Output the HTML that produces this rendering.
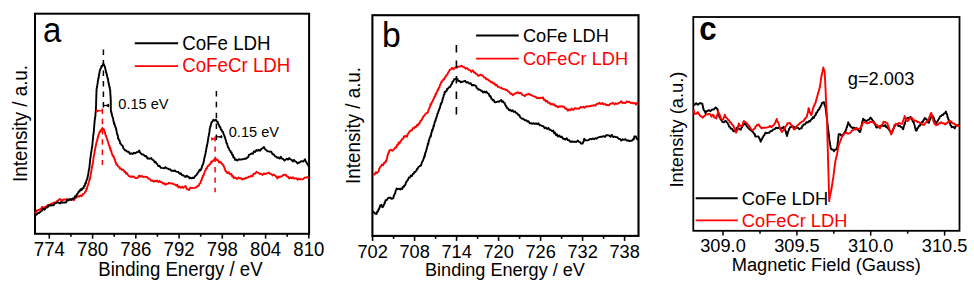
<!DOCTYPE html>
<html><head><meta charset="utf-8"><style>
html,body{margin:0;padding:0;background:#fff;}
body{width:974px;height:285px;overflow:hidden;}
svg{display:block;font-family:"Liberation Sans", sans-serif;}
</style></head><body>
<svg width="974" height="285" viewBox="0 0 974 285">
<rect x="35.0" y="13.7" width="274.1" height="220.10000000000002" fill="none" stroke="#000" stroke-width="2.0"/>
<line x1="49.3" y1="233.8" x2="49.3" y2="238.60000000000002" stroke="#000" stroke-width="1.6"/>
<text transform="translate(49.30,255.80) scale(1,1.04)" font-size="18.6" text-anchor="middle" fill="#000" >774</text>
<line x1="70.9" y1="233.8" x2="70.9" y2="236.70000000000002" stroke="#000" stroke-width="1.6"/>
<line x1="92.6" y1="233.8" x2="92.6" y2="238.60000000000002" stroke="#000" stroke-width="1.6"/>
<text transform="translate(92.60,255.80) scale(1,1.04)" font-size="18.6" text-anchor="middle" fill="#000" >780</text>
<line x1="114.2" y1="233.8" x2="114.2" y2="236.70000000000002" stroke="#000" stroke-width="1.6"/>
<line x1="135.8" y1="233.8" x2="135.8" y2="238.60000000000002" stroke="#000" stroke-width="1.6"/>
<text transform="translate(135.80,255.80) scale(1,1.04)" font-size="18.6" text-anchor="middle" fill="#000" >786</text>
<line x1="157.4" y1="233.8" x2="157.4" y2="236.70000000000002" stroke="#000" stroke-width="1.6"/>
<line x1="179.1" y1="233.8" x2="179.1" y2="238.60000000000002" stroke="#000" stroke-width="1.6"/>
<text transform="translate(179.10,255.80) scale(1,1.04)" font-size="18.6" text-anchor="middle" fill="#000" >792</text>
<line x1="200.7" y1="233.8" x2="200.7" y2="236.70000000000002" stroke="#000" stroke-width="1.6"/>
<line x1="222.3" y1="233.8" x2="222.3" y2="238.60000000000002" stroke="#000" stroke-width="1.6"/>
<text transform="translate(222.30,255.80) scale(1,1.04)" font-size="18.6" text-anchor="middle" fill="#000" >798</text>
<line x1="243.9" y1="233.8" x2="243.9" y2="236.70000000000002" stroke="#000" stroke-width="1.6"/>
<line x1="265.6" y1="233.8" x2="265.6" y2="238.60000000000002" stroke="#000" stroke-width="1.6"/>
<text transform="translate(265.60,255.80) scale(1,1.04)" font-size="18.6" text-anchor="middle" fill="#000" >804</text>
<line x1="287.2" y1="233.8" x2="287.2" y2="236.70000000000002" stroke="#000" stroke-width="1.6"/>
<line x1="308.8" y1="233.8" x2="308.8" y2="238.60000000000002" stroke="#000" stroke-width="1.6"/>
<text transform="translate(308.80,255.80) scale(1,1.04)" font-size="18.6" text-anchor="middle" fill="#000" >810</text>
<text transform="translate(98.27,276.00) scale(1,1.04)" font-size="18.6" text-anchor="start" fill="#000" >Binding Energy / eV</text>
<text transform="translate(27.2,180.2) rotate(-90) scale(1,1.04)" x="-1.7" y="0" font-size="18.8">Intensity / a.u.</text>
<text transform="translate(42.90,42.00) scale(1,1.04)" font-size="33" text-anchor="start" fill="#000" >a</text>
<polyline points="35.5,212.7 36.0,212.6 37.0,210.3 38.0,210.4 40.0,209.3 41.0,209.4 42.0,206.9 43.5,207.8 45.0,207.0 46.5,206.3 48.0,204.9 50.0,204.6 51.5,203.4 53.0,203.3 54.5,202.4 56.0,202.3 57.0,201.1 58.0,200.4 60.0,198.9 62.0,200.8 64.0,199.4 66.0,199.5 67.3,199.1 68.7,200.2 70.0,199.1 71.3,200.0 72.6,199.3 73.9,200.2 75.2,198.0 76.4,197.7 77.7,196.0 79.0,196.8 80.3,195.4 81.6,196.3 83.0,194.1 84.5,193.2 85.1,191.9 85.8,191.6 86.4,188.8 86.8,189.3 87.2,187.0 87.5,186.6 87.9,185.0 88.3,184.5 88.7,182.3 89.1,181.2 89.5,179.2 89.9,179.4 90.3,176.7 90.5,176.2 90.7,174.8 90.9,173.5 91.2,171.4 91.4,170.7 91.6,168.9 91.8,168.5 92.1,166.2 92.3,165.7 92.5,164.0 92.7,164.3 93.0,162.4 93.2,161.1 93.4,158.4 93.6,157.8 93.8,156.2 94.1,155.0 94.3,153.5 94.5,152.6 94.7,150.6 95.0,150.4 95.2,148.5 95.4,147.5 95.7,146.3 95.9,145.2 96.2,143.7 96.5,142.4 96.8,141.3 97.1,141.0 97.3,139.0 97.6,139.2 97.9,136.8 98.2,136.6 98.5,134.6 99.0,134.1 99.5,131.9 100.1,132.0 100.6,130.1 101.5,130.2 102.4,127.9 103.2,129.2 103.9,129.1 104.7,132.6 105.1,132.4 105.6,135.6 106.0,135.6 106.4,137.5 106.9,138.4 107.3,139.9 107.7,140.9 108.2,142.8 108.6,143.9 109.0,145.4 109.5,145.6 109.9,148.5 110.4,148.2 110.8,150.8 111.2,150.5 111.7,153.2 112.1,153.9 112.6,155.8 113.1,155.6 113.6,157.2 114.1,157.3 114.6,159.5 115.0,159.6 115.5,162.2 116.0,162.8 116.4,164.9 117.3,164.5 118.1,166.5 119.0,166.9 119.9,168.7 120.7,168.3 121.6,169.8 123.4,169.8 124.3,171.8 125.1,171.4 126.0,173.7 126.9,173.0 127.8,174.8 128.7,176.0 130.0,176.7 131.3,176.5 132.6,176.8 133.9,176.5 135.2,178.0 136.6,178.1 137.9,177.6 139.2,175.5 140.5,176.7 141.8,175.9 143.2,177.1 144.5,176.6 145.8,177.0 147.1,177.0 148.4,178.6 149.7,178.8 151.1,180.7 152.4,180.5 153.6,181.7 154.7,181.0 155.9,181.4 157.1,180.6 158.3,182.1 159.5,180.8 160.7,182.0 161.8,182.3 163.0,183.5 164.2,183.1 165.4,184.8 166.6,183.9 167.8,183.9 169.0,182.8 171.3,183.7 172.5,183.4 173.7,184.2 174.9,184.4 176.1,185.7 177.2,184.7 178.4,187.5 179.6,186.5 180.8,187.8 182.0,186.8 183.2,187.9 185.5,185.9 186.7,188.8 187.9,189.4 189.1,190.1 190.3,187.6 192.7,188.1 195.0,187.9 196.3,187.2 197.7,185.9 198.6,185.8 199.6,183.5 200.5,183.0 201.0,180.5 201.6,180.2 202.1,177.6 202.7,177.0 203.2,175.3 203.7,175.2 204.1,173.4 204.6,172.3 205.1,170.7 205.5,170.5 206.0,168.8 206.9,168.3 207.8,165.9 208.7,165.8 209.6,164.2 210.5,163.9 211.4,161.4 212.3,161.8 213.3,160.4 214.2,159.9 215.4,158.2 216.6,160.1 217.8,160.0 219.2,162.5 220.5,161.8 221.4,163.4 222.4,164.1 223.3,165.5 223.8,166.0 224.4,168.1 224.9,168.9 225.5,171.0 226.0,171.1 227.4,173.2 228.8,172.2 230.2,174.4 231.5,173.9 232.2,176.4 233.0,175.9 233.7,178.1 235.3,177.4 237.0,179.0 238.5,177.4 240.0,178.6 241.2,178.1 242.5,179.6 243.7,178.6 244.9,178.7 246.2,177.6 247.4,177.9 248.7,176.6 249.9,176.9 251.2,175.8 252.4,176.3 253.6,173.6 254.8,173.8 256.5,171.8 257.7,172.7 258.9,173.1 260.1,174.0 261.4,174.0 262.6,175.0 263.9,173.4 265.1,174.1 266.4,173.4 267.6,173.3 268.8,172.5 270.1,173.9 271.3,174.0 272.6,175.5 273.8,174.4 275.0,175.6 276.2,176.5 277.4,178.4 278.5,176.5 279.7,177.2 280.9,176.4 282.1,176.2 283.3,175.0 284.5,174.8 285.6,174.6 286.8,176.6 288.0,176.5 289.2,178.4 290.4,177.4 291.6,178.3 292.8,177.2 294.0,178.7 296.3,178.1 297.5,179.8 298.7,178.7 299.9,179.3 301.1,179.2 303.4,179.0 304.6,177.6 305.8,177.6 307.0,177.2 308.2,177.7" fill="none" stroke="#f00" stroke-width="1.9" stroke-linejoin="round" stroke-linecap="round" />
<polyline points="35.5,215.3 37.0,214.2 38.0,213.0 39.0,213.0 41.0,211.2 42.0,210.6 43.0,208.7 44.5,209.7 46.0,207.6 47.5,207.4 49.0,205.4 50.5,205.5 52.0,205.1 53.5,205.4 55.0,203.3 56.5,202.9 58.0,202.3 60.0,203.4 61.0,202.0 62.0,202.9 64.0,202.4 66.0,202.5 67.0,199.8 68.0,200.5 70.0,199.1 71.3,199.8 72.6,198.4 73.9,198.8 74.9,196.3 75.8,196.8 76.8,194.4 77.7,193.8 78.7,191.5 79.6,191.5 80.6,189.2 81.6,190.1 82.5,188.1 83.5,188.2 84.1,185.6 84.8,185.9 85.4,182.9 85.9,183.3 86.4,180.4 86.9,179.9 87.4,177.7 87.6,177.9 87.8,175.9 88.1,174.9 88.3,173.3 88.5,172.7 88.8,170.2 89.0,169.4 89.3,168.0 89.5,167.1 89.6,164.8 89.8,163.8 90.0,162.0 90.1,160.7 90.3,158.1 90.5,157.9 90.6,156.5 90.8,155.8 90.9,154.1 91.0,154.1 91.2,151.8 91.4,151.8 91.7,148.8 91.9,148.1 92.2,146.0 92.4,145.1 92.5,142.8 92.6,142.2 92.8,139.8 92.9,139.9 93.0,138.3 93.1,137.0 93.2,135.2 93.4,134.9 93.5,133.8 93.6,134.2 93.7,131.5 93.9,130.8 94.0,128.9 94.1,128.1 94.2,125.9 94.4,124.6 94.5,122.4 94.6,122.1 94.7,120.0 94.9,119.3 95.0,117.7 95.1,117.6 95.3,116.4 95.4,116.3 95.5,113.7 95.6,112.6 95.8,110.6 95.9,109.6 95.9,107.5 96.0,108.2 96.0,105.6 96.1,105.4 96.1,103.7 96.1,102.5 96.2,100.7 96.2,100.2 96.2,98.3 96.3,97.9 96.3,95.8 96.3,95.8 96.4,94.2 96.4,93.3 96.5,91.1 96.5,90.6 96.7,88.0 96.9,87.9 97.1,86.5 97.3,85.3 97.5,83.5 97.7,83.2 97.9,80.9 98.1,80.3 98.3,78.1 98.6,78.5 98.8,76.2 99.0,75.3 99.3,73.0 99.5,73.0 99.8,70.7 100.0,70.1 100.5,68.9 101.0,68.1 101.5,65.9 102.0,66.5 103.4,63.6 104.5,65.8 104.9,66.7 105.3,69.1 105.7,69.8 106.0,72.3 106.3,72.5 106.6,74.1 106.8,74.2 107.1,76.6 107.4,77.1 107.7,78.9 108.0,78.7 108.3,81.8 108.5,82.3 108.8,84.1 109.1,85.0 109.4,87.1 109.7,86.8 109.9,89.5 110.2,90.0 110.3,92.1 110.3,92.7 110.4,95.0 110.5,95.1 110.6,97.5 110.7,97.8 110.7,100.1 110.8,100.3 110.8,102.9 110.8,103.3 110.8,104.5 110.8,104.7 110.8,107.1 110.8,107.8 110.8,109.1 110.8,109.5 111.1,112.1 111.4,111.8 111.7,114.2 112.0,114.7 112.3,116.8 112.6,116.7 112.9,117.9 113.2,119.1 113.4,121.1 113.7,121.1 114.0,123.8 114.3,123.1 114.8,125.3 115.2,125.8 115.6,127.9 116.1,128.3 116.4,130.6 116.7,131.5 116.9,133.5 117.2,133.8 117.5,135.4 117.8,135.2 118.1,138.6 118.6,138.6 119.1,140.4 119.6,140.6 120.2,143.5 120.8,143.8 121.7,145.4 122.5,145.5 123.4,148.3 124.3,149.2 125.1,150.6 126.0,150.4 127.3,151.7 128.7,151.7 130.0,153.9 131.3,153.3 132.6,154.0 133.9,152.8 135.2,153.4 136.6,152.3 137.9,152.1 139.2,150.5 140.1,152.8 140.9,153.3 142.2,154.6 143.6,154.5 144.9,156.3 146.2,156.0 147.5,158.5 148.8,158.3 150.0,158.8 151.2,158.1 152.4,159.8 153.6,160.2 154.7,162.2 155.5,161.7 156.3,163.2 157.1,163.9 158.3,166.1 159.5,165.8 160.7,167.7 161.8,167.9 164.2,168.2 165.4,167.2 166.6,168.4 167.8,168.4 169.0,169.4 170.2,169.3 171.3,170.7 172.5,170.7 173.7,171.0 174.9,170.5 176.1,171.6 178.4,172.0 179.6,173.8 180.8,173.3 182.0,175.3 183.2,175.3 185.5,177.0 186.7,175.7 187.9,176.7 188.7,176.7 189.5,178.3 190.3,177.6 191.5,178.4 192.7,177.6 193.8,178.2 195.0,176.3 196.3,175.1 197.7,173.1 198.6,172.0 199.6,169.8 200.5,170.4 201.1,169.1 201.6,168.3 202.1,165.8 202.7,165.1 203.0,164.1 203.3,163.7 203.6,161.9 203.9,161.2 204.2,158.8 204.5,157.8 204.8,156.0 205.0,155.9 205.2,154.4 205.5,154.2 205.8,151.2 206.0,151.5 206.2,149.0 206.5,148.5 206.7,146.5 206.9,146.7 207.2,144.4 207.4,143.8 207.6,142.3 207.8,142.0 208.0,139.8 208.2,139.1 208.4,136.8 208.7,136.5 208.9,134.6 209.1,134.2 209.3,132.5 209.5,132.3 209.7,128.9 210.0,127.9 210.3,126.2 210.6,126.5 210.9,124.7 211.2,123.9 211.5,122.3 212.4,121.7 213.3,119.8 214.6,120.6 215.9,119.7 216.8,121.5 217.6,121.7 218.3,124.1 218.9,124.8 219.6,127.0 220.3,127.0 221.0,129.8 221.6,129.7 222.2,131.6 222.9,131.6 223.5,133.9 224.1,134.9 224.7,137.0 225.1,137.9 225.6,139.7 226.0,140.3 226.4,143.1 226.8,142.9 227.3,145.0 227.8,146.2 228.2,147.7 228.8,148.0 229.5,150.2 230.2,150.6 230.8,152.4 231.5,152.3 232.1,154.7 232.8,154.7 233.4,157.6 234.3,157.5 235.2,160.0 236.1,159.5 237.4,160.6 238.7,159.3 240.6,159.6 242.5,159.2 243.7,159.1 244.9,158.5 246.2,158.7 247.4,157.5 248.2,157.1 249.1,154.6 250.3,154.3 251.5,153.4 252.8,153.8 254.0,151.3 255.2,151.9 256.5,150.0 257.7,150.8 258.9,149.7 260.1,150.7 261.4,148.7 262.6,148.3 263.9,146.9 265.1,149.3 266.4,150.3 267.6,151.4 268.8,151.4 270.1,151.8 271.3,151.7 272.6,154.3 273.8,154.3 275.0,156.3 276.2,156.6 277.4,157.9 278.5,157.5 279.7,158.7 280.9,156.8 282.1,158.9 283.3,159.0 284.5,160.6 286.8,158.8 288.0,159.6 289.2,158.1 290.4,159.4 291.6,159.8 292.8,161.4 294.0,159.9 295.1,161.3 296.3,161.8 297.5,163.4 298.7,162.4 299.9,162.5 301.1,161.1 303.4,161.5 305.0,159.3 305.8,161.5 306.6,162.6 308.2,165.6" fill="none" stroke="#000" stroke-width="1.9" stroke-linejoin="round" stroke-linecap="round" />
<line x1="103.4" y1="49.6" x2="103.4" y2="108" stroke="#000" stroke-width="1.5" stroke-dasharray="5.5 5"/>
<line x1="102.4" y1="108.4" x2="102.4" y2="165" stroke="#f00" stroke-width="1.5" stroke-dasharray="5.5 4.8"/>
<line x1="216.4" y1="90.9" x2="216.4" y2="140" stroke="#000" stroke-width="1.5" stroke-dasharray="5.5 5.4"/>
<line x1="215.1" y1="136.2" x2="215.1" y2="192.2" stroke="#f00" stroke-width="1.5" stroke-dasharray="5.3 5"/>
<line x1="103.4" y1="105.5" x2="109.4" y2="105.5" stroke="#000" stroke-width="1.3"/><polygon points="105.5,105.5 109,103.6 109,107.4" fill="#000"/>
<line x1="96" y1="110.8" x2="102.3" y2="110.8" stroke="#f00" stroke-width="1.3"/><polygon points="100,110.8 96.3,108.9 96.3,112.7" fill="#f00"/>
<line x1="216.8" y1="136.8" x2="222.5" y2="136.8" stroke="#000" stroke-width="1.3"/><polygon points="218.5,136.8 222,135 222,138.6" fill="#000"/>
<line x1="211.2" y1="138.9" x2="216.1" y2="138.9" stroke="#f00" stroke-width="1.3"/><polygon points="214.5,138.9 211.3,137.1 211.3,140.7" fill="#f00"/>
<text transform="translate(118.33,108.80) scale(1,1.04)" font-size="14.6" text-anchor="start" fill="#000" >0.15 eV</text>
<text transform="translate(228.73,137.10) scale(1,1.04)" font-size="14.6" text-anchor="start" fill="#000" >0.15 eV</text>
<line x1="134.8" y1="43.2" x2="178.1" y2="43.2" stroke="#000" stroke-width="2"/>
<line x1="134.8" y1="66.2" x2="178.1" y2="66.2" stroke="#f00" stroke-width="1.8"/>
<text transform="translate(182.14,49.70) scale(1,1.04)" font-size="18.75" text-anchor="start" fill="#000" >CoFe LDH</text>
<text transform="translate(182.14,72.30) scale(1,1.04)" font-size="18.75" text-anchor="start" fill="#f00" >CoFeCr LDH</text>
<rect x="372.4" y="15.2" width="266.1" height="220.70000000000002" fill="none" stroke="#000" stroke-width="2.1"/>
<line x1="372.6" y1="235.9" x2="372.6" y2="240.9" stroke="#000" stroke-width="1.6"/>
<text transform="translate(372.60,258.20) scale(1,1.04)" font-size="18.2" text-anchor="middle" fill="#000" >702</text>
<line x1="393.6" y1="235.9" x2="393.6" y2="238.9" stroke="#000" stroke-width="1.6"/>
<line x1="414.6" y1="235.9" x2="414.6" y2="240.9" stroke="#000" stroke-width="1.6"/>
<text transform="translate(414.60,258.20) scale(1,1.04)" font-size="18.2" text-anchor="middle" fill="#000" >708</text>
<line x1="435.6" y1="235.9" x2="435.6" y2="238.9" stroke="#000" stroke-width="1.6"/>
<line x1="456.6" y1="235.9" x2="456.6" y2="240.9" stroke="#000" stroke-width="1.6"/>
<text transform="translate(456.60,258.20) scale(1,1.04)" font-size="18.2" text-anchor="middle" fill="#000" >714</text>
<line x1="477.6" y1="235.9" x2="477.6" y2="238.9" stroke="#000" stroke-width="1.6"/>
<line x1="498.6" y1="235.9" x2="498.6" y2="240.9" stroke="#000" stroke-width="1.6"/>
<text transform="translate(498.60,258.20) scale(1,1.04)" font-size="18.2" text-anchor="middle" fill="#000" >720</text>
<line x1="519.6" y1="235.9" x2="519.6" y2="238.9" stroke="#000" stroke-width="1.6"/>
<line x1="540.6" y1="235.9" x2="540.6" y2="240.9" stroke="#000" stroke-width="1.6"/>
<text transform="translate(540.60,258.20) scale(1,1.04)" font-size="18.2" text-anchor="middle" fill="#000" >726</text>
<line x1="561.6" y1="235.9" x2="561.6" y2="238.9" stroke="#000" stroke-width="1.6"/>
<line x1="582.6" y1="235.9" x2="582.6" y2="240.9" stroke="#000" stroke-width="1.6"/>
<text transform="translate(582.60,258.20) scale(1,1.04)" font-size="18.2" text-anchor="middle" fill="#000" >732</text>
<line x1="603.6" y1="235.9" x2="603.6" y2="238.9" stroke="#000" stroke-width="1.6"/>
<line x1="624.6" y1="235.9" x2="624.6" y2="240.9" stroke="#000" stroke-width="1.6"/>
<text transform="translate(624.60,258.20) scale(1,1.04)" font-size="18.2" text-anchor="middle" fill="#000" >738</text>
<text transform="translate(425.02,275.70) scale(1,1.04)" font-size="18.1" text-anchor="start" fill="#000" >Binding Energy / eV</text>
<text transform="translate(360.3,182.2) rotate(-90) scale(1,1.04)" x="-1.7" y="0" font-size="18.8">Intensity / a.u.</text>
<text transform="translate(382.03,46.80) scale(1,1.04)" font-size="33.7" text-anchor="start" fill="#000" >b</text>
<polyline points="373.5,174.4 374.6,174.5 375.7,172.3 376.9,173.1 378.1,171.5 378.6,171.4 379.1,168.9 379.6,168.4 380.1,166.9 380.6,166.9 381.9,164.5 383.1,165.2 384.3,162.5 385.5,162.5 385.9,160.8 386.3,161.2 386.6,159.2 387.0,159.0 387.4,155.8 387.9,155.0 388.4,152.9 388.8,152.7 389.3,150.5 389.8,150.4 391.0,149.8 392.3,150.8 393.5,149.6 394.4,148.9 395.4,147.3 396.3,147.5 397.2,144.7 398.0,144.9 398.8,142.3 399.6,143.2 400.5,141.6 401.3,140.4 402.1,139.1 403.1,138.6 404.1,136.2 405.0,136.7 406.0,135.8 407.0,136.8 407.8,134.0 408.6,133.2 409.4,131.6 410.3,131.0 411.1,130.2 411.9,130.3 412.9,128.1 413.9,128.4 414.9,126.8 415.9,127.1 416.9,125.1 417.8,125.5 418.7,123.4 419.6,123.5 420.5,120.8 421.2,120.8 422.0,119.3 422.7,118.1 423.5,116.1 424.2,115.9 425.1,114.4 426.0,113.6 427.0,112.8 427.9,112.5 428.4,110.1 428.9,109.3 429.5,107.5 430.0,106.7 430.6,104.0 431.3,104.4 431.9,102.0 432.6,101.5 433.2,99.5 433.8,98.7 434.4,96.7 435.1,96.5 435.7,93.8 436.3,94.0 436.8,91.9 437.4,91.2 437.9,89.1 438.4,89.8 438.9,87.4 439.4,87.5 440.0,84.9 440.5,84.3 441.1,82.3 441.7,82.3 442.3,80.5 442.9,80.2 443.5,79.2 444.1,79.6 444.7,77.8 445.5,77.0 446.4,75.1 447.2,74.9 448.1,72.6 448.9,71.5 450.0,69.6 451.0,69.3 452.1,67.7 453.7,69.2 455.3,67.3 456.9,67.8 458.4,66.4 460.0,66.6 461.6,65.8 463.0,66.9 464.4,67.2 465.8,68.8 467.2,68.0 468.6,69.9 470.0,70.1 471.4,71.9 472.8,70.3 474.2,72.7 475.2,72.6 476.3,74.2 477.3,74.5 478.4,75.9 480.1,74.8 481.8,75.1 483.0,75.9 484.1,77.6 485.3,77.6 486.4,79.4 487.6,79.1 488.7,80.4 489.8,80.9 491.0,82.3 492.1,82.0 493.2,83.6 494.4,83.2 495.5,85.3 496.7,84.8 497.8,86.8 499.0,86.9 500.1,87.7 501.3,87.7 502.4,88.7 504.1,89.0 505.8,90.0 506.9,89.8 508.1,91.3 509.2,91.9 510.4,93.8 511.5,93.5 512.7,95.3 514.4,93.9 516.1,93.0 517.8,92.3 519.5,93.4 520.9,92.8 522.3,94.9 523.7,95.3 524.9,96.1 526.2,94.5 527.4,94.6 528.6,93.8 529.9,94.8 531.1,94.8 532.3,95.8 533.5,96.1 534.7,96.8 535.9,97.0 537.2,98.3 538.4,97.8 539.6,98.3 540.9,97.6 542.1,98.2 543.0,97.3 544.0,99.8 544.9,99.6 545.8,101.5 547.0,100.7 548.3,102.9 549.5,102.7 550.7,104.5 552.0,103.8 553.2,104.9 554.4,104.3 555.7,106.4 556.9,106.0 558.1,107.4 559.3,106.3 560.5,106.7 561.7,106.1 563.0,106.8 564.2,106.7 565.4,108.8 566.7,108.8 567.9,110.7 569.1,109.3 570.4,110.2 571.6,108.6 573.3,110.0 575.0,108.0 576.4,108.8 577.7,108.4 579.1,108.7 580.5,107.0 581.8,107.5 583.2,106.7 584.5,107.8 585.9,106.5 587.2,106.5 588.6,106.2 589.9,106.3 591.3,105.6 592.7,105.8 594.0,105.0 595.4,105.7 596.8,103.8 598.1,103.8 599.5,102.8 600.9,104.2 602.2,102.9 603.6,104.5 605.0,103.9 606.3,105.2 607.7,104.8 609.0,105.3 610.4,103.7 611.7,103.5 613.1,102.8 614.4,104.5 615.8,103.3 617.2,104.0 618.5,103.1 619.9,102.5 621.3,101.2 622.6,103.1 624.0,102.7 625.4,103.2 626.7,101.4 628.1,102.0 629.4,101.8 630.8,103.1 632.1,102.6 633.5,103.5 634.8,102.9 636.2,104.6 637.5,102.3" fill="none" stroke="#f00" stroke-width="1.9" stroke-linejoin="round" stroke-linecap="round" />
<polyline points="373.5,211.8 374.6,213.1 375.7,213.6 376.5,214.1 377.3,211.5 378.1,211.3 378.5,209.1 378.9,209.5 379.4,207.8 379.8,207.3 380.2,205.4 380.6,205.6 381.4,204.7 382.3,207.2 383.1,206.9 383.5,206.1 383.9,204.6 384.3,204.2 384.7,202.1 385.1,202.7 385.5,200.1 386.7,200.1 388.0,198.2 389.2,197.7 390.4,197.8 391.7,198.9 392.9,198.4 393.4,198.0 393.8,195.5 394.3,195.1 394.8,193.7 395.2,193.3 395.7,190.5 396.1,190.0 396.6,188.5 397.8,189.2 399.1,188.7 400.3,189.6 401.2,188.4 402.1,189.1 403.0,186.7 403.9,186.9 404.6,185.1 405.3,185.1 406.0,182.3 406.8,181.4 407.5,180.4 408.2,179.2 408.9,177.4 409.9,177.5 410.9,175.5 411.8,176.1 412.8,174.0 413.8,173.7 414.4,171.9 415.0,172.0 415.6,171.5 416.3,170.9 416.9,168.9 417.5,169.1 418.4,167.0 419.3,166.5 420.2,165.7 421.1,165.6 421.6,163.1 422.1,162.1 422.7,161.1 423.2,159.7 423.7,157.9 424.1,158.0 424.4,155.8 424.8,156.1 425.1,153.1 425.4,153.3 425.8,151.6 426.1,151.3 426.5,149.0 426.8,148.8 427.2,146.5 427.5,146.5 427.9,143.4 428.3,144.2 428.7,140.8 429.1,140.4 429.5,138.3 429.9,137.6 430.4,135.9 430.8,136.5 431.2,133.5 431.6,132.7 432.0,130.0 432.4,130.9 432.8,128.6 433.2,128.2 433.5,125.8 433.9,126.3 434.3,124.0 434.6,122.7 435.0,121.1 435.4,121.2 435.8,119.0 436.1,118.7 436.5,117.2 437.0,116.0 437.4,113.7 437.9,113.4 438.4,111.4 438.8,110.7 439.2,109.1 439.6,108.9 440.0,107.2 440.4,106.2 440.8,103.5 441.2,104.0 441.6,102.5 442.0,102.3 442.4,99.7 442.8,99.0 443.1,97.6 443.5,96.6 443.9,94.7 444.3,94.7 444.7,92.0 445.3,92.3 446.0,90.9 446.6,90.9 447.3,88.6 447.9,88.8 449.0,87.2 450.0,87.0 451.1,84.8 451.9,83.9 452.6,81.6 453.4,81.2 454.2,79.2 456.3,78.8 457.4,78.8 458.4,81.1 459.5,80.9 460.9,82.4 462.3,81.6 463.7,81.5 465.1,80.7 466.5,82.7 467.9,82.2 469.3,83.6 470.7,83.2 472.1,85.5 473.6,84.9 475.0,85.5 475.9,85.8 476.7,88.0 477.5,88.3 478.4,89.7 479.5,89.4 480.7,90.5 481.8,90.7 483.0,92.6 484.1,91.5 485.3,92.5 486.4,91.6 487.6,93.3 488.7,93.6 489.6,96.3 490.4,95.9 491.2,98.4 492.1,99.1 493.0,100.4 493.8,100.1 494.6,102.1 495.5,102.3 496.7,102.0 497.8,101.5 499.0,101.7 501.3,100.0 502.1,101.8 503.0,101.3 503.9,102.7 504.7,103.1 505.6,105.6 506.4,106.5 507.2,108.3 508.1,108.5 509.2,110.3 510.4,109.8 511.5,111.3 512.7,110.3 513.8,112.0 515.0,111.4 516.1,113.0 517.3,113.4 518.4,115.1 519.2,115.0 520.1,117.0 520.9,118.0 521.8,118.5 523.7,119.2 524.9,120.4 526.2,120.2 527.4,121.5 528.6,121.2 529.9,123.4 531.1,123.1 532.3,123.9 533.5,123.2 534.7,123.8 535.9,123.5 537.2,124.0 538.4,123.2 539.6,125.2 540.9,125.2 542.1,126.1 543.3,126.1 544.6,128.2 545.8,127.5 547.0,128.9 548.3,127.9 549.5,129.7 550.7,129.8 552.0,131.1 553.2,130.6 554.1,133.3 555.0,132.5 556.0,135.3 556.9,134.3 558.1,136.5 559.3,135.6 560.5,137.1 561.7,136.5 563.0,138.8 564.2,138.8 565.4,139.6 566.7,138.2 567.9,140.2 569.1,140.2 570.4,141.8 571.6,141.5 573.3,141.8 575.0,141.8 576.4,142.0 577.7,140.5 579.1,141.9 580.1,142.1 581.1,143.6 582.1,143.6 582.6,143.6 583.2,141.9 583.7,141.5 584.2,138.8 585.7,140.4 587.2,140.4 588.6,140.1 589.9,138.9 591.3,139.2 592.7,138.5 594.0,139.3 595.4,138.1 596.8,138.7 598.1,137.4 599.5,137.1 600.9,136.8 602.2,136.7 603.6,136.1 605.0,136.9 606.3,135.1 607.7,135.2 609.0,135.4 610.4,136.8 611.7,134.9 613.1,137.0 614.4,136.6 615.8,137.0 617.2,137.2 618.5,138.7 619.9,138.9 621.3,140.5 622.6,139.3 624.0,139.8 625.4,139.2 626.7,140.5 628.1,140.5 629.4,141.0 630.8,140.8 632.1,140.5 632.9,139.3 633.7,139.5 634.4,136.4 635.2,136.4 636.0,136.5 636.7,138.7 637.5,139.4" fill="none" stroke="#000" stroke-width="1.9" stroke-linejoin="round" stroke-linecap="round" />
<line x1="456.4" y1="44.9" x2="456.4" y2="114.6" stroke="#000" stroke-width="1.6" stroke-dasharray="7.7 7.8"/>
<line x1="476.1" y1="35.5" x2="518.7" y2="35.5" stroke="#000" stroke-width="1.9"/>
<line x1="476.1" y1="58.6" x2="518.7" y2="58.6" stroke="#f00" stroke-width="1.8"/>
<text transform="translate(522.97,41.60) scale(1,1.04)" font-size="18.2" text-anchor="start" fill="#000" >CoFe LDH</text>
<text transform="translate(522.97,65.20) scale(1,1.04)" font-size="18.2" text-anchor="start" fill="#f00" >CoFeCr LDH</text>
<rect x="693.3" y="17.0" width="266.20000000000005" height="213.8" fill="none" stroke="#000" stroke-width="1.8"/>
<line x1="723.0" y1="230.8" x2="723.0" y2="235.60000000000002" stroke="#000" stroke-width="1.5"/>
<text transform="translate(723.00,252.20) scale(1,1.04)" font-size="18.2" text-anchor="middle" fill="#000" >309.0</text>
<line x1="760.0" y1="230.8" x2="760.0" y2="233.70000000000002" stroke="#000" stroke-width="1.5"/>
<line x1="796.9" y1="230.8" x2="796.9" y2="235.60000000000002" stroke="#000" stroke-width="1.5"/>
<text transform="translate(796.90,252.20) scale(1,1.04)" font-size="18.2" text-anchor="middle" fill="#000" >309.5</text>
<line x1="833.8" y1="230.8" x2="833.8" y2="233.70000000000002" stroke="#000" stroke-width="1.5"/>
<line x1="870.7" y1="230.8" x2="870.7" y2="235.60000000000002" stroke="#000" stroke-width="1.5"/>
<text transform="translate(870.70,252.20) scale(1,1.04)" font-size="18.2" text-anchor="middle" fill="#000" >310.0</text>
<line x1="907.7" y1="230.8" x2="907.7" y2="233.70000000000002" stroke="#000" stroke-width="1.5"/>
<line x1="944.6" y1="230.8" x2="944.6" y2="235.60000000000002" stroke="#000" stroke-width="1.5"/>
<text transform="translate(944.60,252.20) scale(1,1.04)" font-size="18.2" text-anchor="middle" fill="#000" >310.5</text>
<line x1="981.5" y1="230.8" x2="981.5" y2="233.70000000000002" stroke="#000" stroke-width="1.5"/>
<text transform="translate(731.70,270.90) scale(1,1.04)" font-size="18.3" text-anchor="start" fill="#000" >Magnetic Field (Gauss)</text>
<text transform="translate(683,185.8) rotate(-90) scale(1,1.04)" x="-1.7" y="0" font-size="18.3">Intensity (a.u.)</text>
<text transform="translate(699.28,40.00) scale(1,1.04)" font-size="31.2" text-anchor="start" fill="#000" font-weight="bold">c</text>
<text transform="translate(847.73,84.80) scale(1,1.04)" font-size="18.3" text-anchor="start" fill="#000" >g=2.003</text>
<polyline points="694.0,104.5 694.5,104.9 696.2,103.3 697.9,104.7 699.6,103.3 701.3,103.3 702.4,103.9 702.7,106.0 703.0,106.4 703.2,108.6 703.5,108.6 703.8,110.4 704.6,110.6 705.5,113.1 706.4,111.2 707.2,111.3 708.8,110.1 710.5,111.2 712.2,109.4 713.9,109.5 715.6,107.4 717.3,109.0 717.6,109.4 717.9,111.6 718.3,112.8 718.6,114.3 718.9,115.0 719.5,117.2 720.0,117.4 720.6,119.5 721.5,120.1 722.3,121.9 724.0,122.2 724.9,121.2 725.7,120.7 726.5,122.1 727.4,122.5 727.9,124.0 728.5,124.7 729.0,126.5 729.9,126.8 730.7,128.5 732.4,129.2 733.2,131.0 734.1,131.3 735.8,130.6 736.6,128.2 737.5,127.1 739.1,128.8 740.8,129.7 741.5,127.8 742.1,127.1 742.8,125.6 743.5,124.9 744.4,124.0 745.3,123.2 745.9,123.2 746.4,125.9 747.0,126.4 747.9,127.6 748.8,128.4 749.6,129.5 750.5,129.8 752.3,131.5 753.1,132.1 754.0,133.7 754.6,133.8 755.2,136.3 755.8,136.6 757.5,136.4 758.4,136.4 759.3,138.4 760.0,139.4 760.7,141.7 761.3,139.8 761.9,139.5 762.5,137.5 763.1,137.1 763.7,135.6 764.5,134.8 765.4,132.7 766.8,133.2 768.1,132.8 769.4,132.7 770.7,131.0 772.0,131.0 773.3,129.4 774.6,129.3 776.0,127.6 777.3,128.2 778.6,127.7 779.9,128.6 781.2,128.2 782.5,128.0 783.9,126.8 784.5,128.7 785.0,129.4 785.6,131.5 786.0,131.7 786.3,133.8 786.6,134.7 787.0,136.0 787.4,134.0 787.8,133.1 788.2,131.4 788.7,130.4 789.1,128.8 789.5,128.6 790.0,127.2 791.3,126.9 792.6,126.0 794.0,127.5 795.3,127.1 796.6,127.8 797.9,127.6 799.3,129.2 800.8,128.3 801.5,128.4 802.2,126.1 802.9,125.9 803.6,124.5 805.0,124.4 806.4,122.2 807.8,122.5 809.2,120.9 810.1,121.4 811.1,119.6 812.0,119.0 812.9,117.2 813.9,117.9 814.8,115.6 815.6,115.2 816.3,112.7 817.1,112.3 818.1,110.1 819.1,109.4 819.7,107.5 820.2,107.6 820.8,105.8 821.3,105.5 821.9,103.1 823.8,102.0 824.2,102.5 824.6,105.0 825.1,105.8 825.5,107.7 825.7,107.9 825.8,110.0 826.0,110.8 826.1,112.5 826.3,113.2 826.4,114.7 826.6,116.0 826.8,118.1 826.9,118.9 827.1,120.5 827.2,121.0 827.4,123.4 827.5,123.6 827.7,125.2 827.8,126.1 828.0,128.1 828.1,128.5 828.3,130.6 828.4,130.5 828.6,132.8 828.7,133.1 828.8,135.1 829.0,135.2 829.1,137.8 829.3,138.5 829.4,140.5 829.6,141.4 829.8,142.8 830.0,142.8 830.2,145.5 830.4,145.3 830.6,147.8 830.8,148.5 831.9,149.6 832.9,149.5 834.0,151.3 835.0,149.6 836.1,149.6 837.1,147.4 837.2,146.9 837.4,145.1 837.5,144.7 837.7,143.1 837.8,142.3 838.0,140.9 838.1,140.2 838.3,138.2 838.4,137.5 838.6,135.0 838.7,134.2 840.2,134.1 841.8,136.1 842.9,134.7 843.9,133.5 845.0,131.7 845.4,131.6 845.8,130.1 846.2,129.6 846.6,127.5 847.0,127.4 847.4,124.9 847.8,124.9 848.2,122.3 849.0,124.4 849.8,124.9 850.5,126.7 851.3,126.9 852.6,128.3 854.0,127.5 855.3,128.7 856.6,128.0 857.5,129.9 858.3,130.0 859.1,131.4 860.0,132.1 860.3,131.5 860.5,130.3 860.8,129.8 861.1,127.4 861.3,126.5 861.6,125.0 861.9,124.4 862.1,122.4 862.4,121.7 862.7,120.2 862.9,120.0 863.2,118.7 864.2,120.1 865.3,120.3 866.3,121.4 867.7,120.2 869.1,119.5 870.5,117.6 871.6,118.9 872.6,120.3 873.7,121.7 874.3,122.2 874.9,124.6 875.6,124.9 876.2,127.4 876.8,127.6 878.2,127.3 879.7,126.4 881.1,125.6 882.5,125.7 883.9,126.1 885.3,125.1 886.1,127.1 886.8,126.7 887.6,128.3 888.4,128.6 889.5,130.6 890.5,130.9 891.6,133.3 892.1,131.8 892.6,131.2 893.2,129.3 893.7,128.6 894.2,126.8 894.8,126.3 895.3,124.6 895.8,124.1 897.2,124.2 898.6,126.1 900.0,125.8 901.1,127.2 902.1,127.4 903.2,129.2 903.6,127.1 904.0,126.2 904.4,124.3 904.8,124.1 905.1,122.1 905.5,121.3 905.9,119.6 906.3,118.9 907.7,117.7 909.1,118.2 910.5,116.8 911.3,119.0 912.1,119.6 912.9,121.7 913.7,121.8 914.0,123.8 914.2,123.7 914.5,125.0 914.8,126.1 915.0,127.3 915.3,128.0 915.5,129.4 915.8,130.4 916.6,130.7 917.3,128.4 918.1,127.9 918.9,125.8 919.7,126.1 920.5,123.8 921.3,123.3 922.1,121.7 922.7,122.2 923.4,120.2 924.0,119.9 924.7,118.0 925.3,118.3 925.9,118.8 926.5,119.9 927.2,120.0 927.8,122.2 928.4,122.8 929.0,122.6 929.6,120.3 930.2,119.4 930.8,117.7 931.4,117.3 932.0,115.5 932.6,115.9 933.1,116.2 933.5,117.7 934.0,118.2 934.4,119.8 934.9,121.1 935.3,122.7 935.8,122.8 936.5,123.2 937.2,121.6 937.9,120.6 938.6,119.1 939.3,118.5 940.0,116.5 941.1,116.1 942.1,114.8 943.2,115.0 944.1,113.5 945.0,113.2 945.9,111.5 946.3,113.1 946.6,113.4 947.0,114.7 947.3,115.4 947.7,117.6 948.0,117.7 948.4,119.7 948.9,119.6 949.5,122.2 950.0,122.9 950.5,125.4 951.1,125.6 951.6,127.3 953.2,126.7 954.7,128.4 955.7,126.2 956.6,125.9 957.5,125.1 958.5,125.4" fill="none" stroke="#000" stroke-width="1.9" stroke-linejoin="round" stroke-linecap="round" />
<polyline points="694.0,110.4 694.2,112.5 694.5,113.9 696.2,113.7 697.9,112.1 698.8,114.2 699.6,114.6 700.5,116.3 701.3,116.5 702.9,117.7 703.8,116.1 704.6,116.0 705.5,114.9 706.3,114.5 708.0,114.2 709.7,113.9 710.5,114.5 711.4,116.7 712.2,115.4 713.0,114.8 713.6,115.1 714.1,117.4 714.7,117.5 716.4,118.5 716.7,116.1 717.1,116.0 717.4,114.4 717.8,113.3 718.1,111.3 718.7,113.6 719.2,113.5 719.8,115.2 720.4,116.7 720.9,118.5 721.5,119.2 723.1,119.5 723.7,117.8 724.2,117.1 724.8,114.7 725.6,117.3 726.5,117.5 728.2,120.0 729.0,120.2 729.9,122.3 730.8,122.3 731.6,124.1 733.2,125.5 733.8,126.8 734.3,128.1 734.9,129.8 735.5,131.1 736.1,132.7 736.8,130.8 737.5,130.2 737.8,128.0 738.0,127.4 738.3,125.4 738.5,125.9 738.8,123.5 740.0,125.9 741.8,125.9 742.3,126.0 742.8,123.3 743.4,122.3 743.9,121.1 745.6,122.3 746.5,123.1 747.4,124.1 748.2,124.8 749.1,126.0 749.7,126.6 750.3,128.3 750.9,128.7 751.8,130.1 752.6,130.0 753.5,129.6 754.4,128.5 755.0,128.4 755.5,126.6 756.1,126.2 757.0,124.9 757.9,125.0 758.8,124.4 759.6,126.4 760.5,126.9 761.4,128.2 763.2,127.8 764.9,127.8 766.7,127.6 768.9,126.9 770.0,125.8 771.2,127.2 773.3,125.4 773.9,124.9 774.5,123.7 775.1,123.2 775.7,121.2 776.2,120.2 776.8,118.9 777.5,121.9 778.2,122.1 778.6,123.8 778.9,124.4 779.3,126.1 779.6,127.1 780.0,128.8 780.9,129.8 781.8,132.0 783.5,130.0 784.1,129.6 784.7,127.7 785.3,127.1 786.0,125.7 786.7,125.3 787.4,123.3 788.7,123.4 790.0,122.9 790.9,124.8 791.7,125.1 792.6,126.9 793.2,127.6 793.8,129.3 794.4,129.3 795.1,129.0 795.8,127.6 796.5,126.5 798.0,124.9 798.9,124.3 799.9,123.1 800.8,122.7 802.2,121.4 803.6,121.1 804.5,119.1 805.5,118.4 806.4,116.9 806.9,116.7 807.3,114.2 807.8,113.2 808.0,111.5 808.2,110.7 808.5,108.3 808.7,108.2 809.1,108.8 809.4,111.4 809.8,112.1 810.5,113.5 811.2,115.1 811.7,114.3 812.1,111.8 812.6,110.7 813.0,108.5 813.5,107.4 813.9,105.6 814.4,105.5 814.8,104.1 815.1,104.1 815.5,102.4 815.9,101.9 816.2,99.6 816.5,99.3 816.9,97.5 817.2,97.0 817.6,95.0 817.9,94.1 818.3,92.2 818.6,92.0 818.9,90.2 819.2,90.0 819.6,87.3 819.9,87.6 820.1,85.0 820.3,84.0 820.5,82.8 820.7,81.5 820.9,79.3 821.1,79.3 821.3,76.7 821.5,76.1 821.7,74.7 821.9,74.8 822.2,72.8 822.5,71.7 822.7,69.7 823.0,69.5 823.3,67.4 823.6,68.6 824.0,69.8 824.4,71.3 824.7,71.6 824.8,74.3 824.8,75.5 824.9,76.8 825.0,77.0 825.0,79.7 825.1,79.9 825.2,82.3 825.2,82.6 825.3,84.6 825.4,85.6 825.4,87.7 825.5,88.0 825.6,89.9 825.6,91.0 825.7,92.9 825.7,92.9 825.8,95.0 825.8,95.7 825.9,97.7 825.9,98.7 826.0,100.4 826.0,100.7 826.1,102.4 826.2,102.5 826.2,104.2 826.3,105.4 826.4,107.6 826.5,107.9 826.5,110.3 826.6,110.9 826.7,112.6 826.8,113.0 826.8,115.5 826.9,116.5 826.9,117.7 827.0,118.3 827.0,119.8 827.0,120.3 827.1,122.2 827.1,122.6 827.1,124.4 827.2,125.0 827.2,127.5 827.2,127.6 827.2,130.2 827.3,131.3 827.3,132.6 827.3,133.9 827.4,135.3 827.4,135.8 827.4,137.4 827.5,138.2 827.5,140.4 827.5,141.1 827.6,143.0 827.6,143.6 827.6,145.1 827.7,145.3 827.7,147.3 827.7,147.8 827.8,149.7 827.8,150.5 827.8,152.5 827.9,152.6 827.9,154.4 827.9,154.8 828.0,156.3 828.0,157.1 828.0,159.3 828.1,160.1 828.1,162.0 828.1,162.8 828.2,164.5 828.2,164.6 828.2,167.0 828.3,168.0 828.3,170.1 828.4,169.7 828.4,171.5 828.4,172.1 828.5,173.5 828.5,174.0 828.5,175.6 828.6,176.5 828.6,178.4 828.6,179.3 828.7,181.1 828.7,181.4 828.7,183.0 828.8,183.5 828.8,185.5 828.8,186.6 828.9,188.7 828.9,189.8 828.9,191.4 829.0,191.9 829.0,193.7 829.0,193.9 829.1,195.7 829.1,196.0 829.1,198.4 829.2,199.5 829.2,201.2 829.4,199.3 829.7,198.1 829.9,195.8 830.1,195.8 830.3,193.7 830.6,193.8 830.8,192.4 831.0,191.4 831.3,189.4 831.5,189.4 831.7,186.8 831.9,186.6 832.2,184.0 832.4,183.1 832.6,181.6 832.7,181.1 832.9,179.1 833.1,179.2 833.3,177.3 833.4,176.9 833.6,174.6 833.8,174.2 834.0,171.6 834.1,170.7 834.3,168.6 834.5,168.3 834.6,167.0 834.8,166.1 835.0,163.6 835.2,163.0 835.3,161.2 835.5,160.9 835.7,159.5 836.0,158.8 836.2,157.4 836.5,156.7 836.7,155.4 837.0,155.0 837.2,152.8 837.5,152.4 837.7,149.7 838.0,149.3 838.2,147.1 838.5,146.5 838.7,144.6 839.1,144.4 839.6,143.0 840.0,142.0 840.5,140.3 840.9,139.9 841.4,137.9 841.8,137.2 842.6,135.5 843.4,135.3 844.2,133.3 845.0,133.3 846.6,132.8 848.1,133.7 849.7,133.0 850.9,132.3 852.0,130.4 853.2,130.2 854.3,129.1 855.5,129.5 856.6,128.3 858.3,128.9 860.0,128.3 860.6,128.2 861.3,126.4 861.9,125.8 862.6,123.0 863.2,122.6 864.6,122.0 866.0,122.9 867.4,123.2 868.8,123.0 870.2,121.5 871.6,122.1 872.6,121.7 873.7,123.1 874.8,122.8 875.8,124.8 876.8,124.8 877.9,126.5 879.0,126.2 880.0,128.3 880.7,126.7 881.4,125.7 882.1,124.3 882.8,124.1 883.5,121.7 884.2,122.2 885.3,122.0 886.3,122.9 887.4,123.1 887.8,125.2 888.2,125.5 888.7,127.4 889.1,128.4 889.5,129.7 889.9,130.4 890.4,132.6 890.8,132.7 891.2,134.5 891.6,132.7 892.1,132.5 892.5,131.2 893.0,130.2 893.4,128.4 893.8,127.7 894.3,125.2 894.7,125.2 896.1,124.1 897.5,124.3 898.9,122.9 900.5,123.4 902.1,123.8 902.5,123.3 902.9,121.1 903.4,120.1 903.8,118.7 904.2,118.6 904.6,116.0 905.3,118.1 906.0,118.9 906.7,120.6 907.4,121.1 908.4,120.5 909.5,118.5 910.5,117.7 911.5,117.3 912.6,119.0 913.7,119.9 914.7,120.8 916.1,120.7 917.5,122.2 918.9,121.9 920.0,122.9 921.0,122.9 922.1,124.8 923.2,124.7 924.2,124.9 925.3,122.9 926.4,122.1 927.4,120.7 927.9,120.3 928.5,118.8 929.0,117.8 929.6,116.5 930.1,115.8 930.7,113.3 931.2,112.8 931.6,114.1 931.9,116.6 932.3,116.7 932.6,118.1 933.0,119.1 933.3,121.0 933.7,121.6 934.5,123.7 935.2,124.1 936.0,125.2 936.8,125.0 937.9,124.7 939.0,123.2 940.0,123.3 941.1,122.3 942.5,123.3 943.9,123.3 945.3,124.6 946.3,123.1 947.4,123.1 948.5,121.3 949.5,121.3 950.9,121.2 952.3,123.2 953.7,123.2 954.9,124.3 956.1,124.9 957.3,125.9 958.5,126.0" fill="none" stroke="#f00" stroke-width="1.9" stroke-linejoin="round" stroke-linecap="round" />
<line x1="695.7" y1="198.2" x2="737.8" y2="198.2" stroke="#000" stroke-width="1.9"/>
<line x1="695.7" y1="220.3" x2="737.8" y2="220.3" stroke="#f00" stroke-width="1.8"/>
<text transform="translate(741.77,204.60) scale(1,1.04)" font-size="18.3" text-anchor="start" fill="#000" >CoFe LDH</text>
<text transform="translate(741.77,227.20) scale(1,1.04)" font-size="18.3" text-anchor="start" fill="#f00" >CoFeCr LDH</text>
</svg>
</body></html>
